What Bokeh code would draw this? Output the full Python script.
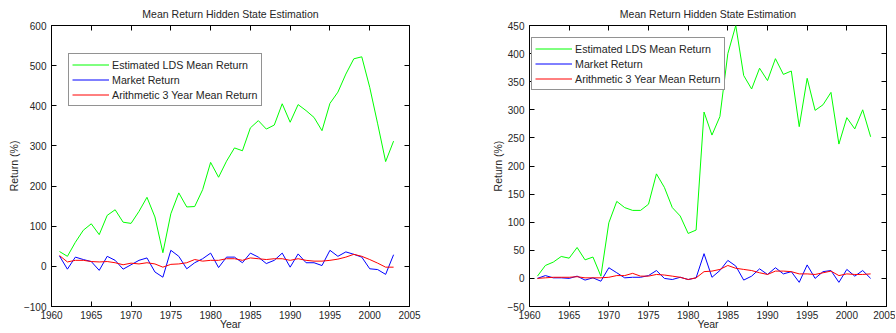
from bokeh.plotting import figure
from bokeh.layouts import row
from bokeh.models import LinearAxis, Range1d, Legend, LegendItem, FixedTicker
from bokeh.embed import file_html
from bokeh.resources import INLINE

years = list(range(1961, 2004))

left_lds = [37, 25, 60, 90, 106, 79, 127, 141, 110, 107,
            137, 172, 123, 34, 131, 183, 148, 149, 191, 259,
            222, 262, 295, 288, 345, 363, 342, 352, 405, 359,
            403, 388, 371, 338, 406, 434, 479, 517, 522, 446,
            355, 261, 312]
left_market = [26, -7, 23, 17, 12, -10, 25, 15, -7, 4,
               15, 21, -14, -27, 40, 25, -6, 9, 19, 33,
               -3, 23, 23, 9, 33, 23, 7, 15, 33, -2,
               31, 9, 9, 2, 40, 25, 36, 30, 23, -6,
               -8, -20, 29]
left_mean3 = [27, 11, 15, 15, 12, 11, 12, 9, 4, 8,
              6, 9, 6, -2, 5, 6, 9, 17, 13, 15,
              15, 19, 19, 15, 21, 19, 17, 19, 19, 15,
              19, 15, 13, 13, 15, 18, 23, 30, 25, 17,
              8, -2, -2]

right_lds = [4, 23, 29, 39, 36, 55, 33, 38, 4, 99,
             137, 126, 121, 121, 132, 186, 162, 126, 111, 80,
             86, 296, 255, 288, 400, 450, 361, 337, 374, 352,
             391, 363, 369, 270, 356, 299, 309, 331, 239, 286,
             266, 300, 252]
right_market = [0, 5, 1, 1, 0, 4, -3, 1, -5, 19,
                10, 1, 2, 2, 5, 14, 0, -2, 2, -2,
                1, 44, 2, 14, 32, 22, -3, 4, 17, 7,
                19, 8, 12, -7, 24, 0, 12, 14, -7, 16,
                4, 14, 0]
right_mean3 = [0, 1, 2, 2, 2, 3, 1, 1, 1, 2,
               5, 5, 9, 4, 4, 7, 6, 4, 2, -2,
               1, 12, 13, 16, 23, 18, 16, 14, 10, 7,
               13, 13, 12, 8, 8, 7, 10, 13, 5, 8,
               7, 7, 8]

x_ticks = [1960, 1965, 1970, 1975, 1980, 1985, 1990, 1995, 2000, 2005]
left_y_ticks = [-100, 0, 100, 200, 300, 400, 500, 600]
right_y_ticks = [-50, 0, 50, 100, 150, 200, 250, 300, 350, 400, 450]

title_text = "Mean Return Hidden State Estimation"
labels = ["Estimated LDS Mean Return", "Market Return", "Arithmetic 3 Year Mean Return"]
colors = ["#00ff00", "#0000ff", "#ff0000"]

FONT = "Liberation Sans"
TICK_FS = "10px"
LABEL_FS = "10.5px"
LEG_FS = "10.7px"
TEXT_COLOR = "#262626"


def style_axis(ax, standoff=5, label_standoff=1, show_labels=True):
    ax.axis_line_color = "black"
    ax.major_tick_in = 5
    ax.major_tick_out = 0
    ax.minor_tick_line_color = None
    ax.major_tick_line_color = "black"
    ax.major_label_text_font = FONT
    ax.axis_label_text_font = FONT
    ax.axis_label_text_font_style = "normal"
    ax.axis_label_text_font_size = LABEL_FS
    ax.axis_label_text_color = TEXT_COLOR
    if show_labels:
        ax.major_label_text_font_size = TICK_FS
        ax.major_label_text_color = TEXT_COLOR
        ax.major_label_standoff = standoff
        ax.axis_label_standoff = label_standoff
    else:
        ax.major_label_text_font_size = "1px"
        ax.major_label_text_color = None
        ax.major_label_standoff = 0
        ax.axis_line_color = None


def make_plot(width, bl, br, ylo, yhi, yticks, lds, market, mean3, leg_loc):
    p = figure(width=width, height=333, output_backend="svg", toolbar_location=None,
               x_range=Range1d(1960, 2005), y_range=Range1d(ylo, yhi),
               min_border_left=bl, min_border_right=br, min_border_top=24,
               min_border_bottom=27, title=title_text)
    p.title.align = "center"
    p.title.text_font = FONT
    p.title.text_font_size = LABEL_FS
    p.title.text_font_style = "normal"
    p.title.text_color = TEXT_COLOR
    p.title.standoff = 11
    p.title.offset = 0
    p.xgrid.grid_line_color = None
    p.ygrid.grid_line_color = None
    p.outline_line_color = "black"
    p.outline_line_alpha = 1
    p.background_fill_color = "white"
    p.border_fill_color = "white"

    p.xaxis.ticker = FixedTicker(ticks=x_ticks)
    p.yaxis.ticker = FixedTicker(ticks=yticks)
    p.xaxis.axis_label = "Year"
    p.yaxis.axis_label = "Return (%)"
    style_axis(p.xaxis[0], standoff=4, label_standoff=-4)
    style_axis(p.yaxis[0], standoff=5, label_standoff=1)

    top = LinearAxis(ticker=FixedTicker(ticks=x_ticks))
    style_axis(top, show_labels=False)
    p.add_layout(top, "above")
    right = LinearAxis(ticker=FixedTicker(ticks=yticks))
    style_axis(right, show_labels=False)
    p.add_layout(right, "right")

    r1 = p.line(years, lds, line_color=colors[0], line_width=1)
    r2 = p.line(years, market, line_color=colors[1], line_width=1)
    r3 = p.line(years, mean3, line_color=colors[2], line_width=1)

    legend = Legend(items=[LegendItem(label=labels[0], renderers=[r1]),
                           LegendItem(label=labels[1], renderers=[r2]),
                           LegendItem(label=labels[2], renderers=[r3])],
                    location=leg_loc)
    legend.label_text_font = FONT
    legend.label_text_font_size = LEG_FS
    legend.label_text_color = TEXT_COLOR
    legend.border_line_color = "#262626"
    legend.border_line_width = 1
    legend.background_fill_color = "white"
    legend.background_fill_alpha = 1
    legend.padding = 3
    legend.spacing = 0
    legend.margin = 0
    legend.label_height = 15
    legend.glyph_height = 15
    legend.glyph_width = 37
    legend.label_standoff = 3
    p.add_layout(legend, "center")
    return p


p1 = make_plot(458, 51, 49, -100, 600, left_y_ticks, left_lds, left_market, left_mean3, (17, 200))
p2 = make_plot(437, 71, 9, -50, 450, right_y_ticks, right_lds, right_market, right_mean3, (2, 216))

layout = row(p1, p2)
open("out.html", "w").write(file_html(layout, INLINE))
